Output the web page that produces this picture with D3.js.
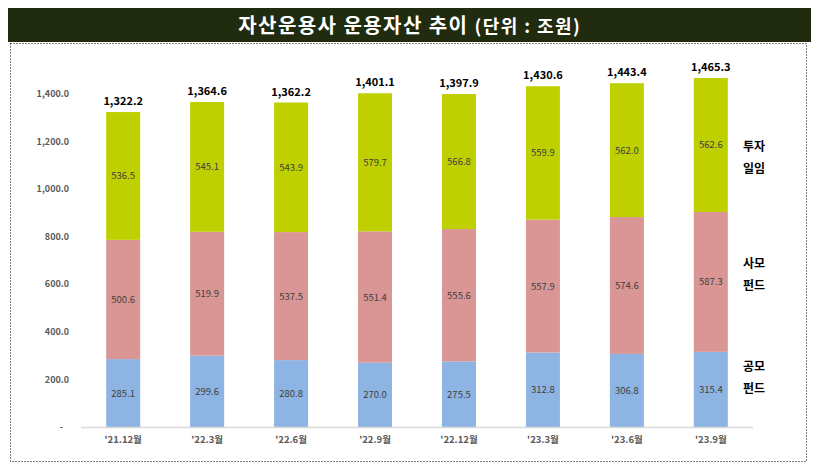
<!DOCTYPE html>
<html><head><meta charset="utf-8">
<script src="https://cdn.jsdelivr.net/npm/d3@7/dist/d3.min.js"></script>
<style>body{margin:0;background:#fff;} svg{display:block;}</style>
</head><body>
<svg id="c" width="818" height="468"></svg>
<script>
const categories = ["'21.12월","'22.3월","'22.6월","'22.9월","'22.12월","'23.3월","'23.6월","'23.9월"];
const publicFund = [285.1, 299.6, 280.8, 270.0, 275.5, 312.8, 306.8, 315.4];
const privateFund = [500.6, 519.9, 537.5, 551.4, 555.6, 557.9, 574.6, 587.3];
const discretionary = [536.5, 545.1, 543.9, 579.7, 566.8, 559.9, 562.0, 562.6];
const totals = ["1,322.2","1,364.6","1,362.2","1,401.1","1,397.9","1,430.6","1,443.4","1,465.3"];
const yTicks = [0, 200, 400, 600, 800, 1000, 1200, 1400];
const seriesNames = [["공모","펀드"],["사모","펀드"],["투자","일임"]];

const svg = d3.select("#c");
const font = "'Noto Sans CJK KR','Noto Sans',sans-serif";
const colors = ["#8db4e2","#d99694","#bfd000"];

// title bar
svg.append("rect").attr("x",8).attr("y",8).attr("width",803).attr("height",34).attr("fill","#212b10");
const tt = svg.append("text").attr("x",409).attr("y",33).attr("text-anchor","middle")
  .attr("fill","#fff").attr("font-family",font).attr("font-weight","bold");
tt.append("tspan").attr("font-size",20).text("자산운용사 운용자산 추이 ");
tt.append("tspan").attr("font-size",18).text("(단위 : 조원)");
// widen spacing to match reference span (~343px)
{
  const w = tt.node().getComputedTextLength();
  const n = tt.text().length;
  const ls = Math.max(0, (343 - w) / n);
  tt.attr("letter-spacing", ls);
  tt.attr("x", 409 + ls/2);
}

// dotted border
svg.append("rect").attr("x",10.5).attr("y",43.5).attr("width",796).attr("height",418)
  .attr("fill","none").attr("stroke","#000").attr("stroke-width",1).attr("stroke-dasharray","1,2");

const x = d3.scaleBand().domain(categories).range([81,753]).paddingInner(0.595).paddingOuter(0.3);
const y = d3.scaleLinear().domain([0,1400]).range([427, 427 - 1400*0.2382]);

const data = categories.map((c,i)=>({cat:c, v:[publicFund[i], privateFund[i], discretionary[i]]}));

// bars
data.forEach((d,i)=>{
  let base = 0;
  d.v.forEach((val,k)=>{
    const y0 = y(base), y1 = y(base+val);
    svg.append("rect").attr("x",x(d.cat)).attr("y",y1).attr("width",x.bandwidth()).attr("height",y0-y1).attr("fill",colors[k]);
    svg.append("text").attr("x",x(d.cat)+x.bandwidth()/2).attr("y",(y0+y1)/2+3.5)
      .attr("text-anchor","middle").attr("font-family",font).attr("font-size",9.5).attr("fill","#404040")
      .text(val.toFixed(1));
    base += val;
  });
  svg.append("text").attr("x",x(d.cat)+x.bandwidth()/2).attr("y",y(base)-7)
    .attr("text-anchor","middle").attr("font-family",font).attr("font-size",11).attr("font-weight","bold").attr("fill","#000")
    .text(totals[i]);
});

// baseline
svg.append("line").attr("x1",81).attr("x2",753).attr("y1",427.5).attr("y2",427.5).attr("stroke","#d9d9d9").attr("stroke-width",1.5);

// y axis
const ya = svg.append("g").attr("transform","translate(69,0)")
  .call(d3.axisLeft(y).tickValues(yTicks).tickSize(0).tickPadding(0)
    .tickFormat(v => v===0 ? "-" : d3.format(",.1f")(v)));
ya.select(".domain").remove();
ya.selectAll("text").attr("font-family",font).attr("font-size",9).attr("font-weight","bold").attr("fill","#595959");
ya.selectAll(".tick").filter(d=>d===0).select("text").attr("dx",-6);

// x axis
const xa = svg.append("g").attr("transform","translate(0,436)")
  .call(d3.axisBottom(x).tickSize(0).tickPadding(0));
xa.select(".domain").remove();
xa.selectAll("text").attr("font-family",font).attr("font-size",9.5).attr("font-weight","bold").attr("fill","#595959");

// series labels
const labelY = [366, 263, 146];
seriesNames.forEach((nm,k)=>{
  const t = svg.append("text").attr("x",743).attr("y",labelY[k]+5).attr("font-family",font)
    .attr("font-size",12).attr("font-weight","bold").attr("fill","#000");
  t.append("tspan").attr("x",743).text(nm[0]);
  t.append("tspan").attr("x",743).attr("dy",22).text(nm[1]);
});
</script>
</body></html>
